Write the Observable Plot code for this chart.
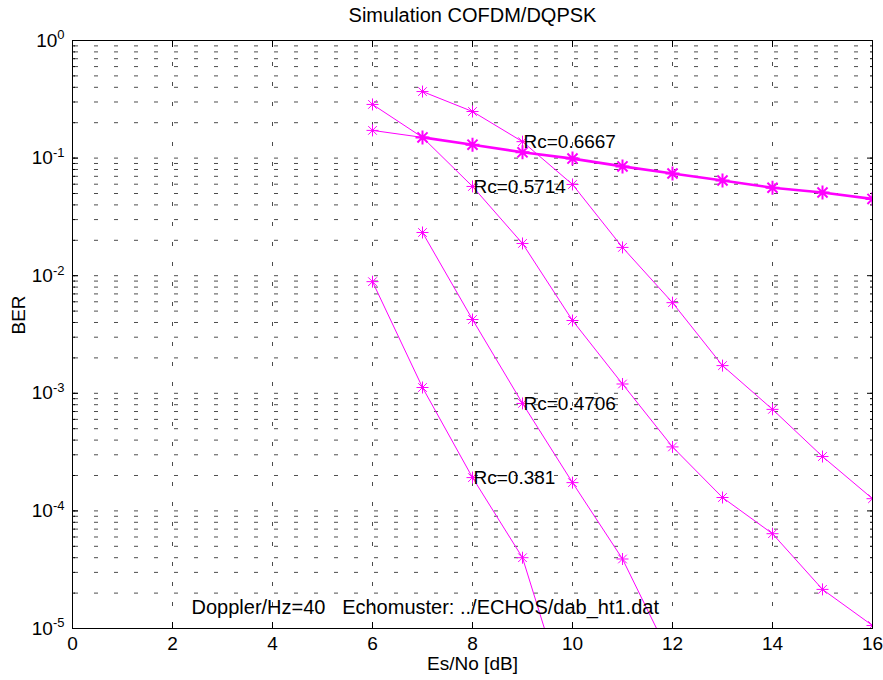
<!DOCTYPE html>
<html><head><meta charset="utf-8">
<script src="https://cdn.jsdelivr.net/npm/d3@7"></script>
<script src="https://cdn.jsdelivr.net/npm/@observablehq/plot@0.6"></script>
<style>
body{margin:0;background:#fff;}
#chart svg{font-family:"Liberation Sans",Arial,Helvetica,sans-serif;}
</style>
</head><body><div id="chart"></div>
<script>
// ---- data ----
const esnoFloorA = [6,7,8,9,10,11,12,13,14,15,16];
const berFloorA  = [0.172,0.150,0.130,0.112,0.099,0.085,0.074,0.0645,0.056,0.051,0.045];
const esnoFloorB = [7,8,9,10,11,12,13,14,15,16];
const berFloorB  = [0.150,0.130,0.112,0.099,0.085,0.074,0.0645,0.056,0.051,0.045];
const esnoR6667 = [7,8,9,10,11,12,13,14,15,16];
const berR6667  = [0.368,0.249,0.138,0.0597,0.0174,0.0059,0.00172,0.00073,0.00029,0.000127];
const esnoR5714 = [6,7,8,9,10,11,12,13,14,15,16];
const berR5714  = [0.286,0.150,0.0574,0.0188,0.00416,0.00120,0.00035,0.00013,0.000064,0.0000215,0.0000106];
const esnoR4706 = [7,8,9,10,11,12];
const berR4706  = [0.0233,0.00424,0.00082,0.000174,0.000039,0.0000053];
const esnoR381  = [6,7,8,9,10];
const berR381   = [0.0089,0.00112,0.000192,0.000040,0.0000017];
const labelTexts = ["Rc=0.6667","Rc=0.5714","Rc=0.4706","Rc=0.381"];
const labelAtEsno = [9,8,9,8];
const xTicks = [0,2,4,6,8,10,12,14,16];
const yDecades = [1e-5,1e-4,1e-3,1e-2,1e-1,1];
const titleText = "Simulation COFDM/DQPSK";
const xLabel = "Es/No [dB]";
const yLabel = "BER";
const noteText = "Doppler/Hz=40   Echomuster: ../ECHOS/dab_ht1.dat";

// ---- build tables ----
const mk = (xs, ys) => xs.map((x, i) => ({x, y: ys[i]}));
const floorA = mk(esnoFloorA, berFloorA);
const floorB = mk(esnoFloorB, berFloorB);
const thinSeries = [mk(esnoR6667, berR6667), mk(esnoR5714, berR5714), mk(esnoR4706, berR4706), mk(esnoR381, berR381)];
const labelData = labelTexts.map((t, i) => {
  const s = thinSeries[i];
  const p = s.find(d => d.x === labelAtEsno[i]);
  return {text: t, x: p.x, y: p.y};
});
const yMinor = [];
for (const d of yDecades.slice(0, -1)) for (let k = 1; k <= 9; k++) yMinor.push(d * k);
yMinor.push(1);

const magenta = "#ff00ff";
const asterisk = {
  draw(ctx, size) {
    const r = Math.sqrt(size / Math.PI);
    const q = r * 0.72;
    ctx.moveTo(-r, 0); ctx.lineTo(r, 0);
    ctx.moveTo(0, -r); ctx.lineTo(0, r);
    ctx.moveTo(-q, -q); ctx.lineTo(q, q);
    ctx.moveTo(-q, q); ctx.lineTo(q, -q);
  }
};

const gridStyle = {stroke: "#000", strokeOpacity: 0.7, strokeWidth: 1, strokeDasharray: "4,16", strokeDashoffset: -2};
const FS = 19;

const marks = [
  Plot.gridY(yMinor, {...gridStyle}),
  Plot.gridX(xTicks, {...gridStyle}),
  Plot.frame({stroke: "#000", strokeWidth: 1}),
  // inward ticks
  Plot.axisX(xTicks, {anchor: "bottom", tickSize: -6, fill: "none", label: null}),
  Plot.axisX(xTicks, {anchor: "top", tickSize: -6, fill: "none", label: null}),
  Plot.axisY(yDecades, {anchor: "left", tickSize: -6, fill: "none", label: null}),
  Plot.axisY(yDecades, {anchor: "right", tickSize: -6, fill: "none", label: null}),
  Plot.axisY(yMinor, {anchor: "left", tickSize: -3, fill: "none", label: null}),
  Plot.axisY(yMinor, {anchor: "right", tickSize: -3, fill: "none", label: null}),
  // tick labels
  Plot.axisX(xTicks, {anchor: "bottom", tickSize: 0, tickPadding: 8, label: null, fontSize: FS, tickFormat: d => String(d)}),
  Plot.axisY(yDecades, {anchor: "left", tickSize: 0, tickPadding: 8, label: null, fontSize: FS, tickFormat: d => "10|" + Math.round(Math.log10(d))}),
  // curves
  Plot.line(floorA, {x: "x", y: "y", stroke: magenta, strokeWidth: 1, clip: true}),
  Plot.line(floorB, {x: "x", y: "y", stroke: magenta, strokeWidth: 2.6, clip: true}),
  ...thinSeries.map(s => Plot.line(s, {x: "x", y: "y", stroke: magenta, strokeWidth: 1, clip: true})),
  Plot.dot(floorA, {x: "x", y: "y", symbol: asterisk, r: 6, stroke: magenta, strokeWidth: 1, fill: "none", clip: true}),
  Plot.dot(floorB, {x: "x", y: "y", symbol: asterisk, r: 7, stroke: magenta, strokeWidth: 2, fill: "none", clip: true}),
  ...thinSeries.map(s => Plot.dot(s, {x: "x", y: "y", symbol: asterisk, r: 6, stroke: magenta, strokeWidth: 1, fill: "none", clip: true})),
  // annotations
  Plot.text(labelData, {x: "x", y: "y", text: "text", textAnchor: "start", lineAnchor: "middle", dx: 1, fill: "#000", fontSize: FS}),
  Plot.text([noteText], {frameAnchor: "bottom-left", dx: 119, dy: -21, textAnchor: "start", lineAnchor: "middle", fill: "#000", fontSize: 20}),
  Plot.text([titleText], {frameAnchor: "top", dy: -25, lineAnchor: "middle", fill: "#000", fontSize: 20}),
  Plot.text([xLabel], {frameAnchor: "bottom", dy: 35, lineAnchor: "middle", fill: "#000", fontSize: FS}),
  Plot.text([yLabel], {frameAnchor: "left", dx: -54, rotate: -90, lineAnchor: "middle", fill: "#000", fontSize: FS})
];

const chart = Plot.plot({
  width: 883,
  height: 680,
  marginTop: 40,
  marginBottom: 52,
  marginLeft: 72,
  marginRight: 11,
  style: {fontFamily: "'Liberation Sans', Arial, Helvetica, sans-serif", fontSize: "19px", color: "#000", background: "#fff"},
  x: {domain: [0, 16], axis: null},
  y: {type: "log", domain: [1e-5, 1], axis: null},
  marks
});

// superscript exponents on the y tick labels
chart.querySelectorAll('g[aria-label="y-axis tick label"] text').forEach(t => {
  const s = t.textContent;
  if (!s.includes("|")) return;
  const [base, exp] = s.split("|");
  t.textContent = base;
  const ts = document.createElementNS("http://www.w3.org/2000/svg", "tspan");
  ts.setAttribute("dy", "-0.55em");
  ts.setAttribute("font-size", "13px");
  ts.textContent = exp;
  t.appendChild(ts);
});

document.getElementById("chart").appendChild(chart);
</script>
</body></html>
